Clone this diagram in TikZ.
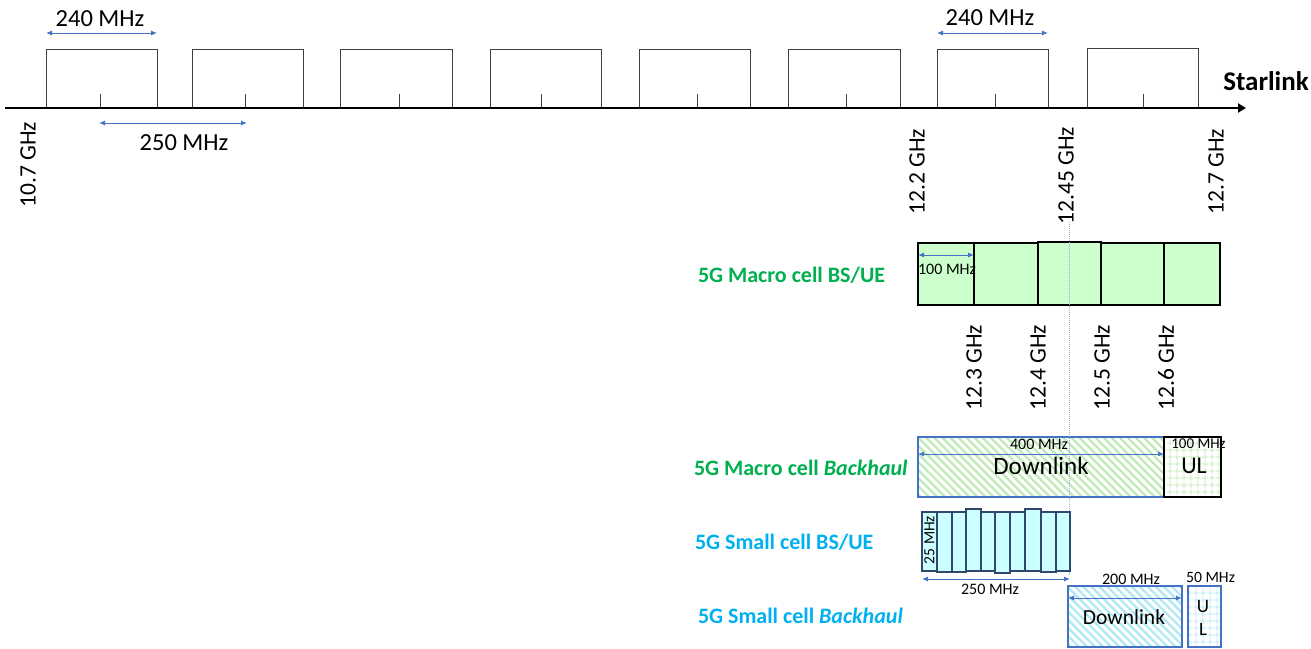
\documentclass[tikz,border=0pt]{standalone}
\usepackage{fontspec}
\setmainfont{Carlito}
\usetikzlibrary{arrows.meta,patterns.meta}
\definecolor{dimblue}{RGB}{68,114,196}
\definecolor{lblgreen}{RGB}{0,176,80}
\definecolor{lblblue}{RGB}{0,176,240}
\definecolor{boxgreen}{RGB}{204,255,204}
\definecolor{boxcyan}{RGB}{204,255,255}
\definecolor{hgreen}{RGB}{190,235,180}
\definecolor{hcyan}{RGB}{175,232,245}
\definecolor{bandgray}{RGB}{64,64,64}
\definecolor{slate}{RGB}{47,72,110}
\definecolor{dotblue}{RGB}{143,170,220}
\newcommand\setfs[1]{\fontsize{#1}{#1}\selectfont}
\begin{document}
\begin{tikzpicture}[x=1pt,y=-1pt,
  every node/.style={inner sep=0pt,outer sep=0pt},
  band/.style={draw=bandgray,line width=1pt,minimum height=59pt},
  axisline/.style={line width=2pt,-{Triangle[length=8pt,width=9pt]}},
  tickline/.style={draw=bandgray,line width=1pt},
  dim/.style={draw=dimblue,line width=1pt,{Latex[length=6pt,width=5pt]}-{Latex[length=6pt,width=5pt]}},
  mhz/.style={font=\setfs{24.5}},
  ghz/.style={font=\setfs{23.5},rotate=90,anchor=east},
  smalltxt/.style={font=\setfs{16}},
  mcell/.style={draw=black,fill=boxgreen,line width=1.1pt},
  scell/.style={draw=slate,fill=boxcyan,line width=1.2pt,minimum width=15pt},
  greenlbl/.style={font=\bfseries\setfs{22},text=lblgreen,anchor=west},
  bluelbl/.style={font=\bfseries\setfs{22},text=lblblue,anchor=west},
  dlgreen/.style={draw=dimblue,line width=1.1pt,pattern={Lines[angle=-45,distance=5.7pt,line width=2.2pt]},pattern color=hgreen},
  ulgreen/.style={draw=black,line width=1.1pt,pattern={Hatch[angle=0,distance=6.5pt,line width=0.8pt]},pattern color=hgreen},
  dlcyan/.style={draw=dimblue,line width=1.1pt,pattern={Lines[angle=-45,distance=5.7pt,line width=2.2pt]},pattern color=hcyan},
  ulcyan/.style={draw=dimblue,line width=1.1pt,pattern={Hatch[angle=0,distance=6.5pt,line width=0.8pt]},pattern color=hcyan},
  dotline/.style={draw=dotblue,line width=1pt,densely dotted}
]
\fill[white] (0,0) rectangle (1311,648);
\useasboundingbox (0,0) rectangle (1311,648);

% Starlink bands
\node[band,minimum width=111pt] (band1) at (101.5,78.5) {};
\node[band,minimum width=111pt] (band2) at (247.5,78.5) {};
\node[band,minimum width=112pt] (band3) at (396,78.5) {};
\node[band,minimum width=111pt] (band4) at (545.5,78.5) {};
\node[band,minimum width=111pt] (band5) at (694.5,78.5) {};
\node[band,minimum width=112pt] (band6) at (844,78.5) {};
\node[band,minimum width=111pt] (band7) at (992.5,78.5) {};
\node[band,minimum width=111pt,minimum height=60pt] (band8) at (1142.5,78) {};
\foreach \t in {100,245,399,541,697,846,995,1143}{
  \draw[tickline] (\t,108) -- (\t,94);
}
\coordinate (ax0) at (5,108);
\coordinate (ax1) at (1246,108);
\draw[axisline] (ax0) -- (ax1);
\node[font=\bfseries\setfs{27}] (starlink) at (1266,81) {Starlink};

% dimensions top
\coordinate (a240l) at (46,33);
\coordinate (a240r) at (157,33);
\draw[dim] (a240l) -- (a240r);
\node[mhz] (t240a) at (100,19) {240 MHz};
\coordinate (b240l) at (937,33);
\coordinate (b240r) at (1048,33);
\draw[dim] (b240l) -- (b240r);
\node[mhz] (t240b) at (990,18) {240 MHz};
\coordinate (a250l) at (99,123);
\coordinate (a250r) at (247,123);
\draw[dim] (a250l) -- (a250r);
\node[mhz] (t250) at (184,142.5) {250 MHz};

% frequency labels
\node[ghz] (g107) at (28,122) {10.7 GHz};
\node[ghz] (g122) at (917,129) {12.2 GHz};
\node[ghz] (g1245) at (1066,127) {12.45 GHz};
\node[ghz] (g127) at (1216,129) {12.7 GHz};

% 5G macro cell BS/UE
\node[greenlbl] (lmacro) at (698,275) {5G Macro cell BS/UE};
\node[mcell,minimum width=56pt,minimum height=62pt] (m1) at (946,274) {};
\node[mcell,minimum width=64pt,minimum height=62pt] (m2) at (1006,274) {};
\node[mcell,minimum width=63pt,minimum height=63pt] (m3) at (1069.5,273.5) {};
\node[mcell,minimum width=63pt,minimum height=62pt] (m4) at (1132.5,274) {};
\node[mcell,minimum width=56pt,minimum height=62pt] (m5) at (1192,274) {};
\coordinate (c100l) at (918,255);
\coordinate (c100r) at (974,255);
\draw[dim] (c100l) -- (c100r);
\node[smalltxt] (t100) at (947,269) {100 MHz};
\node[ghz] (g123) at (974,325) {12.3 GHz};
\node[ghz] (g124) at (1038,325) {12.4 GHz};
\node[ghz] (g125) at (1102,325) {12.5 GHz};
\node[ghz] (g126) at (1166,325) {12.6 GHz};

% 5G macro cell backhaul
\node[greenlbl] (lmacrob) at (694,468) {5G Macro cell \textit{Backhaul}};
\node[dlgreen,minimum width=246pt,minimum height=60pt] (mdl) at (1041,467) {};
\node[ulgreen,minimum width=57pt,minimum height=60pt] (mul) at (1192.5,467) {};
\coordinate (c400l) at (918,454);
\coordinate (c400r) at (1164,454);
\draw[dim] (c400l) -- (c400r);
\node[smalltxt] (t400) at (1039,444) {400 MHz};
\node[font=\setfs{25}] (tdl1) at (1041,466) {Downlink};
\node[font=\setfs{15}] (t100b) at (1198.5,444) {100 MHz};
\node[font=\setfs{24}] (tul1) at (1194,466) {UL};

% dotted marker at 12.45 GHz
\coordinate (dtop) at (1069,222);
\coordinate (dbot) at (1069,576);
\draw[dotline] (dtop) -- (dbot);

% 5G small cell BS/UE
\node[bluelbl] (lsmall) at (695,542) {5G Small cell BS/UE};
\node[scell,minimum height=59pt] (s1) at (929.5,541.5) {};
\node[scell,minimum height=60pt] (s2) at (944.5,542) {};
\node[scell,minimum height=60pt,minimum width=14pt] (s3) at (959,542) {};
\node[scell,minimum height=62pt] (s4) at (973.5,540) {};
\node[scell,minimum height=59pt,minimum width=14pt] (s5) at (988,541.5) {};
\node[scell,minimum height=61pt] (s6) at (1002.5,542.5) {};
\node[scell,minimum height=59pt] (s7) at (1017.5,541.5) {};
\node[scell,minimum height=62pt,minimum width=16pt] (s8) at (1033,540) {};
\node[scell,minimum height=60pt] (s9) at (1048.5,542) {};
\node[scell,minimum height=59pt,minimum width=14pt] (s10) at (1063,541.5) {};
\node[font=\setfs{15.5},rotate=90] (t25) at (929.5,540) {25 MHz};
\coordinate (c250l) at (922,579);
\coordinate (c250r) at (1070,579);
\draw[dim] (c250l) -- (c250r);
\node[smalltxt] (t250b) at (990,589.5) {250 MHz};

% 5G small cell backhaul
\node[bluelbl] (lsmallb) at (698,616) {5G Small cell \textit{Backhaul}};
\node[dlcyan,minimum width=114pt,minimum height=61pt] (sdl) at (1125,616.5) {};
\node[ulcyan,minimum width=33pt,minimum height=61pt] (sul) at (1204.5,616.5) {};
\coordinate (c200l) at (1068,598);
\coordinate (c200r) at (1182,598);
\draw[dim] (c200l) -- (c200r);
\node[smalltxt] (t200) at (1131,579.5) {200 MHz};
\node[font=\setfs{15.7}] (t50) at (1210.5,577.5) {50 MHz};
\node[font=\setfs{21.5}] (tdl2) at (1124,617) {Downlink};
\node[font=\setfs{19}] (tu) at (1203,606) {U};
\node[font=\setfs{19}] (tl) at (1203,629) {L};
\end{tikzpicture}
\end{document}
